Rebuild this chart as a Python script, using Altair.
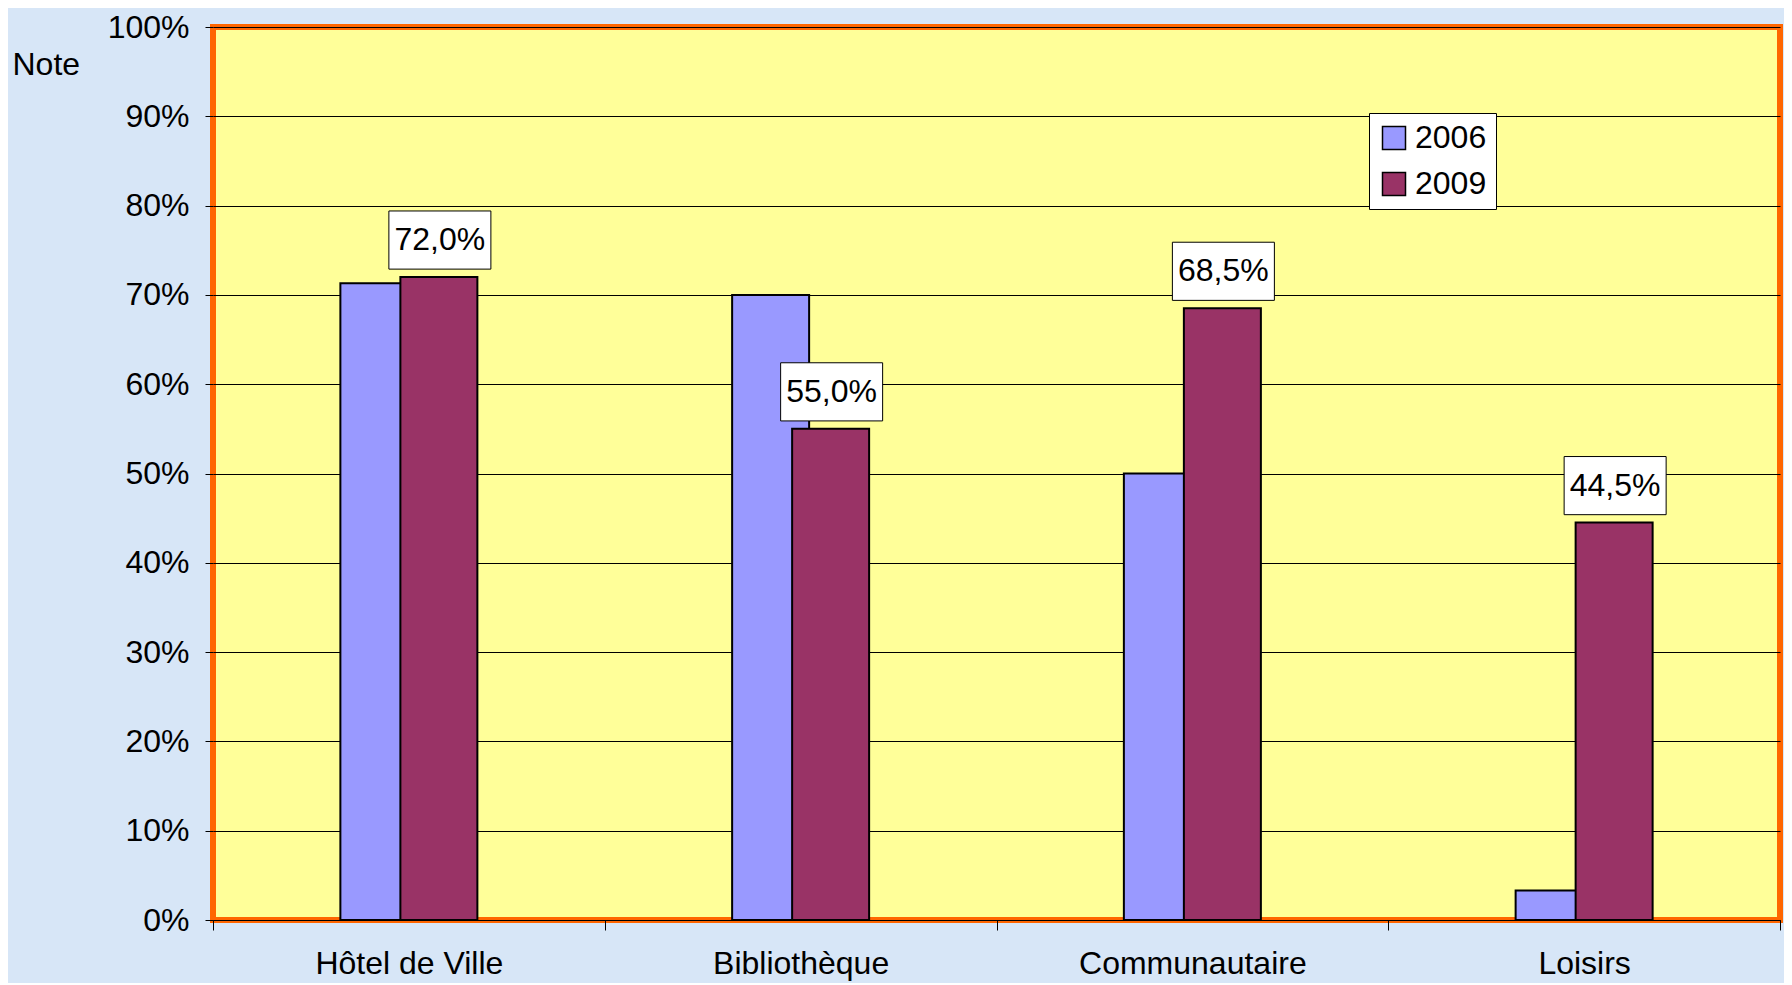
import altair as alt
import pandas as pd

categories = ["Hôtel de Ville", "Bibliothèque", "Communautaire", "Loisirs"]
years = ["2006", "2009"]
v2006 = [0.713, 0.70, 0.50, 0.033]
v2009 = [0.72, 0.55, 0.685, 0.445]
y_ticks = [0, 0.1, 0.2, 0.3, 0.4, 0.5, 0.6, 0.7, 0.8, 0.9, 1.0]

rows = []
for c, a, b in zip(categories, v2006, v2009):
    rows.append({"cat": c, "year": "2006", "value": a})
    rows.append({"cat": c, "year": "2009", "value": b,
                 "label": f"{b*100:.1f}%".replace(".", ",")})
df = pd.DataFrame(rows)

FONT = "Liberation Sans"
FS = 32

xenc = alt.X("cat:N", sort=categories, title=None,
             scale=alt.Scale(paddingInner=0, paddingOuter=0),
             axis=alt.Axis(tickBand="extent", labelAngle=0, labelFontSize=FS,
                           labelPadding=18, tickSize=10, tickColor="black",
                           domainColor="black", labelColor="black", labelLimit=0,
                           labelFont=FONT, grid=False))
yenc = alt.Y("value:Q", scale=alt.Scale(domain=[0, 1], nice=False),
             title="Note",
             axis=alt.Axis(values=y_ticks, format=".0%", labelFontSize=FS,
                           labelPadding=16, tickSize=8, tickColor="black",
                           domain=False, grid=True, gridColor="black",
                           gridWidth=1, labelColor="black", labelFont=FONT,
                           titleAngle=0, titleAlign="left", titleBaseline="middle",
                           titleX=-201, titleY=37, titleFontSize=FS,
                           titleFontWeight="normal", titleColor="black",
                           titleFont=FONT))
color = alt.Color("year:N", scale=alt.Scale(domain=years, range=["#9999FF", "#993366"]),
                  legend=alt.Legend(title=None, orient="none", legendX=1156, legendY=86,
                                    padding=9, fillColor="white", strokeColor="black",
                                    symbolType="square", symbolSize=529,
                                    symbolStrokeColor="black", symbolStrokeWidth=1.5,
                                    labelFontSize=FS, labelFont=FONT, labelColor="black",
                                    labelOffset=5, rowPadding=14))

base = alt.Chart(df)
bars06 = base.transform_filter(alt.datum.year == "2006").mark_bar(
    width=77, xOffset=-30, stroke="black", strokeWidth=2
).encode(x=xenc, y=yenc, color=color)
bars09 = base.transform_filter(alt.datum.year == "2009").mark_bar(
    width=77, xOffset=30, stroke="black", strokeWidth=2
).encode(x=xenc, y=yenc, color=color)

box_path = "M-1,-0.57L1,-0.57L1,0.57L-1,0.57Z"
boxes = base.transform_filter(alt.datum.year == "2009").mark_point(
    shape=box_path, size=10404, filled=True, fill="white", stroke="black",
    strokeWidth=1, opacity=1, xOffset=31, yOffset=-37
).encode(x=alt.X("cat:N", sort=categories), y="value:Q")
labels = base.transform_filter(alt.datum.year == "2009").mark_text(
    fontSize=FS, font=FONT, color="black", xOffset=31, yOffset=-37, baseline="middle"
).encode(x=alt.X("cat:N", sort=categories), y="value:Q", text="label:N")

chart = alt.layer(bars06, bars09, boxes, labels).properties(
    width=1567, height=893,
    autosize=alt.AutoSizeParams(type="none"),
    padding={"left": 205, "top": 19, "right": 4, "bottom": 63},
    background="#d7e6f7",
).configure_view(fill="#FFFF99", stroke="#FF6600", strokeWidth=6)

chart.save("out.html", embed_options={"renderer": "svg", "actions": False})
